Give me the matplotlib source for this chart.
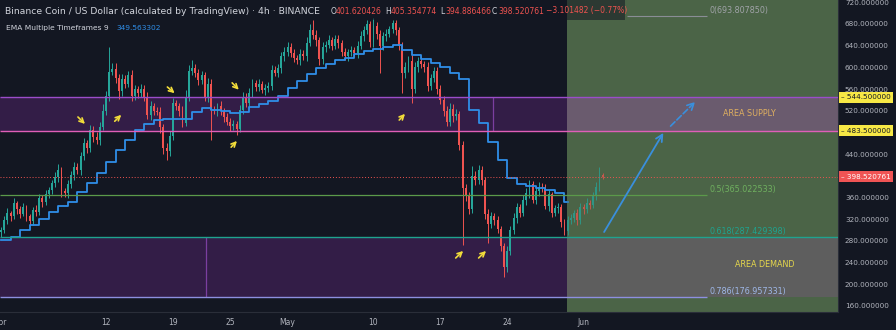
import matplotlib
matplotlib.use('Agg')
import matplotlib.pyplot as plt
import matplotlib.patches as patches
import numpy as np

plt.rcParams['font.family'] = ['DejaVu Sans']

# BNB/USD, 8h candles from Apr 1 (x axis is days since Apr 1)
first_open = 296
closes = [
    300, 318, 331, 326, 350, 338, 330, 342, 326, 316,
    337, 333, 360, 352, 366, 374, 386, 398, 410, 372,
    368, 384, 402, 417, 410, 436, 460, 452, 484, 472,
    466, 490, 520, 548, 592, 596, 580, 556, 578, 570,
    585, 548, 560, 552, 560, 546, 512, 528, 520, 518,
    490, 452, 446, 474, 534, 528, 520, 498, 546, 594,
    598, 590, 576, 585, 546, 570, 522, 520, 528, 520,
    508, 500, 492, 496, 486, 522, 546, 534, 552, 571,
    564, 570, 558, 562, 566, 595, 590, 598, 620, 628,
    638, 626, 618, 613, 624, 620, 645, 668, 660, 650,
    615, 638, 642, 650, 640, 652, 645, 628, 620, 628,
    632, 626, 640, 657, 668, 680, 646, 676, 662, 640,
    657, 662, 670, 682, 668, 640, 590, 600, 612, 560,
    600, 612, 606, 600, 566, 580, 594, 560, 540, 520,
    500, 524, 510, 514, 456, 378, 362, 338, 400, 392,
    410, 392, 330, 312, 326, 318, 302, 270, 232, 262,
    300, 322, 342, 332, 356, 368, 384, 356, 372, 380,
    378, 345, 366, 332, 340, 343, 314, 298, 318, 322,
    331, 318, 342, 338, 350, 346, 362, 380, 401.620426, 398.520761,
]
upper_wicks = [
    6, 8, 10, 5, 9, 4, 7, 8, 5, 4,
    6, 9, 7, 5, 8, 6, 7, 9, 12, 6,
    5, 8, 6, 9, 7, 8, 10, 6, 9, 7,
    8, 10, 12, 9, 46, 12, 12, 8, 10, 7,
    9, 10, 8, 6, 9, 7, 8, 10, 6, 7,
    8, 6, 9, 8, 10, 6, 7, 9, 12, 10,
    15, 8, 7, 9, 6, 10, 8, 7, 6, 9,
    5, 8, 6, 7, 5, 9, 8, 6, 10, 7,
    6, 9, 5, 8, 6, 10, 7, 9, 8, 10,
    9, 6, 8, 5, 9, 7, 10, 12, 19, 8,
    6, 9, 7, 10, 6, 8, 7, 5, 8, 6,
    7, 6, 9, 10, 8, 8, 6, 14, 7, 6,
    8, 9, 7, 5, 6, 7, 6, 9, 8, 10,
    9, 7, 8, 6, 9, 8, 7, 6, 8, 7,
    8, 10, 8, 9, 6, 8, 7, 9, 18, 8,
    10, 8, 6, 9, 8, 6, 7, 5, 6, 8,
    7, 9, 8, 6, 9, 10, 8, 7, 9, 8,
    7, 6, 8, 5, 7, 6, 5, 6, 8, 7,
    6, 8, 7, 6, 9, 6, 8, 9, 14, 3.734348,
]
lower_wicks = [
    8, 5, 7, 9, 6, 8, 7, 5, 9, 6,
    7, 8, 5, 9, 6, 7, 8, 6, 9, 11,
    7, 8, 6, 9, 7, 8, 6, 10, 8, 9,
    7, 9, 6, 8, 10, 7, 9, 14, 8, 9,
    7, 10, 8, 9, 6, 8, 7, 9, 8, 6,
    12, 12, 17, 9, 8, 7, 9, 8, 6, 8,
    9, 7, 8, 6, 9, 10, 56, 7, 9, 8,
    8, 6, 9, 7, 10, 6, 8, 7, 9, 6,
    7, 8, 6, 9, 7, 8, 6, 7, 9, 8,
    8, 7, 9, 6, 8, 7, 9, 6, 8, 10,
    10, 8, 9, 7, 8, 6, 9, 8, 7, 9,
    8, 6, 9, 7, 8, 6, 9, 8, 9, 51,
    9, 8, 7, 6, 9, 8, 38, 9, 8, 26,
    8, 9, 7, 8, 9, 7, 8, 9, 8, 10,
    9, 8, 10, 7, 9, 106, 9, 8, 7, 9,
    8, 9, 10, 36, 9, 8, 7, 9, 18, 9,
    8, 7, 9, 8, 7, 9, 8, 7, 8, 9,
    8, 7, 9, 8, 7, 9, 8, 7, 8, 6,
    7, 8, 6, 9, 7, 8, 6, 7, 8, 3.634295,
]

# daily EMA 9 plotted on the 4h chart
ema_values = [
    281, 288, 300, 310, 320, 333, 344, 352, 370, 386,
    405, 425, 447, 466, 484, 496, 503, 505, 505, 504,
    518, 525, 522, 519, 516, 518, 527, 532, 538, 548,
    562, 575, 588, 598, 606, 613, 618, 624, 630, 634,
    638, 641, 632, 622, 615, 608, 600, 590, 578, 521,
    497, 463, 429, 396, 385, 382, 378, 374, 368, 352,
]
ema_end = 59.35

supply_top, supply_bottom = 544.5, 483.5
fib_ratios = ['0', '0.5', '0.618', '0.786']
fib_prices = [693.807850, 365.022533, 287.429398, 176.957331]
last_price = 398.520761
price_ticks = np.arange(160, 721, 40)
date_ticks = [0, 11, 18, 24, 30, 39, 46, 53, 61]
date_labels = ['Apr', '12', '19', '25', 'May', '10', '17', '24', 'Jun']

bg = '#131722'
up_col, down_col = '#26a69a', '#ef5350'
green = '#4b6447'

xmin, xmax = -0.105, 87.64
ymin, ymax = 148.94, 724.06
x_green = 59.27      # start of the projection zone
fib_end = 73.9

fig = plt.figure(figsize=(8.96, 3.30), dpi=100)
fig.patch.set_facecolor(bg)
ax = fig.add_axes([0, 18 / 330, 838 / 896, 312 / 330])
ax.set_facecolor(bg)
ax.set_xlim(xmin, xmax)
ax.set_ylim(ymin, ymax)

# supply / demand boxes on the history side
box_col = '#331d47'
ax.add_patch(patches.Rectangle((xmin, supply_bottom), x_green - xmin, supply_top - supply_bottom,
                               facecolor=box_col, edgecolor='none', zorder=0.5))
ax.add_patch(patches.Rectangle((xmin, fib_prices[3]), x_green - xmin, fib_prices[2] - fib_prices[3],
                               facecolor=box_col, edgecolor='none', zorder=0.5))
ax.vlines(51.5, supply_bottom, supply_top, color='#7b3fa0', lw=0.9, zorder=0.7)
ax.vlines(21.5, fib_prices[3], fib_prices[2], color='#7b3fa0', lw=0.9, zorder=0.7)

# projection zone, split by the boxes
bands = [
    (ymin, fib_prices[3], green),
    (fib_prices[3], fib_prices[2], '#5e5e5e'),
    (fib_prices[2], supply_bottom, green),
    (supply_bottom, supply_top, '#6a5b6e'),
    (supply_top, ymax, green),
]
for lo, hi, col in bands:
    ax.add_patch(patches.Rectangle((x_green, lo), xmax - x_green, hi - lo,
                                   facecolor=col, edgecolor='none', zorder=0.6))

# candles
n = len(closes)
opens = np.array([first_open] + closes[:-1], dtype=float)
closes_a = np.array(closes, dtype=float)
highs = np.maximum(opens, closes_a) + np.array(upper_wicks)
lows = np.minimum(opens, closes_a) - np.array(lower_wicks)
days = np.arange(n) / 3.0
cols = [up_col if c >= o else down_col for o, c in zip(opens, closes_a)]
body_lo = np.minimum(opens, closes_a)
body_h = np.maximum(np.abs(closes_a - opens), 0.8)
ax.vlines(days, lows, highs, colors=cols, lw=0.7, zorder=2)
ax.bar(days, body_h, bottom=body_lo, width=0.2, color=cols, linewidth=0, zorder=2.1)

# EMA step line
ema_x = list(np.arange(len(ema_values))) + [ema_end]
ema_y = ema_values + [ema_values[-1]]
ax.step(ema_x, ema_y, where='post', color='#2f8ee8', lw=1.3, zorder=2.5)

# soften the candles inside the projection zone
for lo, hi, col in bands:
    ax.add_patch(patches.Rectangle((x_green, lo), xmax - x_green, hi - lo,
                                   facecolor=col, edgecolor='none', alpha=0.25, zorder=3))

# levels
ax.hlines(supply_top, xmin, xmax, color='#9b4dca', lw=1.0, zorder=4)
ax.hlines(supply_bottom, xmin, xmax, color='#e05fb8', lw=1.0, zorder=4)
ax.hlines(fib_prices[2], xmin, xmax, color='#1fa38f', lw=1.0, zorder=4)
ax.hlines(fib_prices[3], xmin, fib_end, color='#8d8fe0', lw=1.0, zorder=4)
ax.hlines(fib_prices[1], xmin, fib_end, color='#5b9a4a', lw=0.9, zorder=4)
ax.hlines(fib_prices[0], 65.55, fib_end, color='#8a8d96', lw=0.8, zorder=4)
ax.hlines(last_price, xmin, xmax, color='#ef5350', lw=0.7, linestyles=(0, (1, 2)), zorder=4)

fib_cols = ['#a0a3a8', '#6fb05f', '#1fa38f', '#9fb8e8']
for r, p, c in zip(fib_ratios, fib_prices, fib_cols):
    ax.text(74.2, p + 2, f'{r}({p:.6f})', color=c, fontsize=5.8, ha='left', va='bottom', zorder=6)

ax.text(78.4, 515, 'AREA SUPPLY', color='#e0b060', fontsize=5.8, ha='center', va='center', zorder=6)
ax.text(80.0, 236, 'AREA DEMAND', color='#e6d84c', fontsize=5.8, ha='center', va='center', zorder=6)

# projected move
ax.annotate('', xy=(69.5, 483.5), xytext=(63.0, 292),
            arrowprops=dict(arrowstyle='->', color='#3a8fdc', lw=1.3, mutation_scale=12), zorder=5)
ax.annotate('', xy=(72.9, 540), xytext=(69.9, 488),
            arrowprops=dict(arrowstyle='->', color='#3a8fdc', lw=1.2, linestyle='--', mutation_scale=12), zorder=5)

# yellow reaction markers
marks = [
    ((7.85, 512), (9.0, 492)),
    ((11.7, 497), (12.8, 516)),
    ((17.2, 567), (18.4, 549)),
    ((24.0, 575), (25.1, 555)),
    ((23.9, 449), (24.9, 468)),
    ((41.5, 499), (42.5, 518)),
    ((47.4, 245), (48.6, 265)),
    ((49.8, 245), (51.0, 265)),
]
for start, end in marks:
    ax.annotate('', xy=end, xytext=start,
                arrowprops=dict(arrowstyle='->', color='#f2dd3a', lw=1.2, mutation_scale=8), zorder=5)

# axes styling
for s in ['top', 'left']:
    ax.spines[s].set_visible(False)
for s in ['right', 'bottom']:
    ax.spines[s].set_color('#2a2e39')
ax.yaxis.tick_right()
ax.set_yticks(price_ticks)
ax.set_yticklabels([f'{v:.6f}' for v in price_ticks])
ax.tick_params(axis='y', length=0, pad=5, labelsize=5.2, labelcolor='#b2b5be')
ax.set_xticks(date_ticks)
ax.set_xticklabels(date_labels)
ax.tick_params(axis='x', length=0, pad=4, labelsize=5.5, labelcolor='#b2b5be')

# price tags on the right scale
tr = ax.get_yaxis_transform()
for p, fc, tc in [(supply_top, '#f7e845', '#131722'), (supply_bottom, '#f7e845', '#131722'),
                  (last_price, '#f05454', 'white')]:
    ax.text(1.004, p, f'\u2013 {p:.6f}', transform=tr, fontsize=5.2, color=tc, ha='left', va='center',
            bbox=dict(boxstyle='square,pad=0.3', facecolor=fc, edgecolor='none'),
            zorder=10, clip_on=False)

# legend header
fig.add_artist(patches.Rectangle((0, 1 - 20 / 330), 625 / 896, 20 / 330, transform=fig.transFigure,
                                 facecolor=bg, edgecolor='none', alpha=0.55, zorder=5))
hy = 1 - 11 / 330
fig.text(5 / 896, hy, 'Binance Coin / US Dollar (calculated by TradingView) \u00b7 4h \u00b7 BINANCE',
         color='#d1d4dc', fontsize=6.7, va='center', zorder=6)
header_parts = [
    ('O', 331, '#d1d4dc'), ('401.620426', 336, '#ef5350'),
    ('H', 385, '#d1d4dc'), ('405.354774', 391, '#ef5350'),
    ('L', 440, '#d1d4dc'), ('394.886466', 445, '#ef5350'),
    ('C', 492, '#d1d4dc'), ('398.520761', 498, '#ef5350'),
    ('\u22123.101482 (\u22120.77%)', 546, '#ef5350'),
]
for txt, px, c in header_parts:
    fig.text(px / 896, hy, txt, color=c, fontsize=5.5, va='center', zorder=6)
fig.text(6 / 896, 1 - 28 / 330, 'EMA Multiple Timeframes 9', color='#d1d4dc', fontsize=5.4, va='center')
fig.text(116 / 896, 1 - 28 / 330, '349.563302', color='#2f8ee8', fontsize=5.4, va='center')

plt.savefig('out.png', dpi=100, facecolor=bg)
